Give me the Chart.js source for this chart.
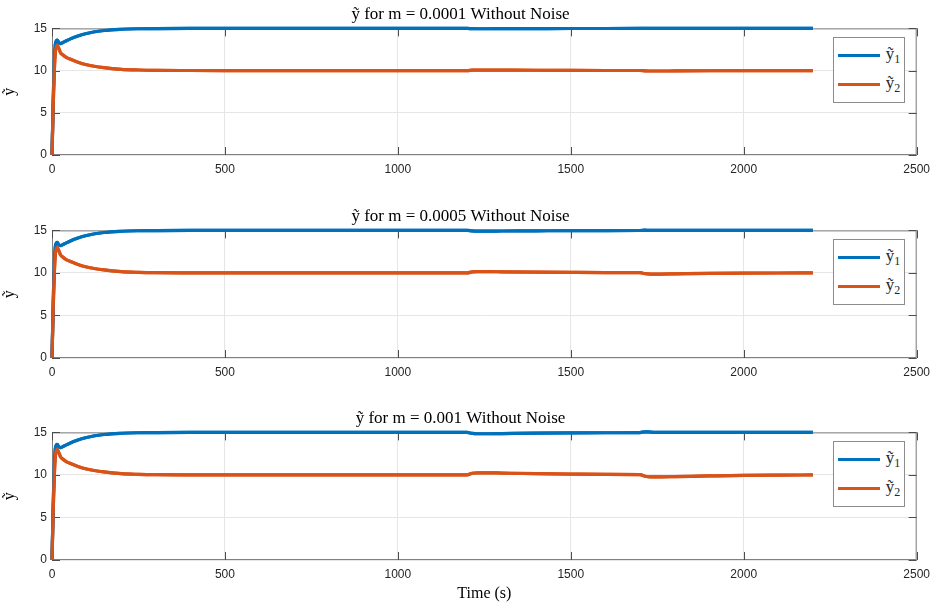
<!DOCTYPE html>
<html>
<head>
<meta charset="utf-8">
<script src="https://cdn.jsdelivr.net/npm/chart.js@4.4.1/dist/chart.umd.min.js"></script>
<style>
  body { margin: 0; background: #fff; }
  #wrap { position: relative; width: 937px; height: 603px; }
  .panel { position: absolute; left: 0; width: 937px; }
  .legend {
    position: absolute; background: #fff; border: 1px solid #8c8c8c;
    font-family: "Liberation Serif", serif; font-size: 17px; color: #262626;
    padding: 3px 4px 3px 4px;
  }
  .legend .row { display: flex; align-items: center; height: 29px; }
  .legend .sw { display: inline-block; width: 42px; height: 3px; margin-right: 6px; }
  .legend sub { font-size: 12px; }
</style>
</head>
<body>
<div id="wrap">
  <div class="panel" style="top:0;height:200px"><canvas id="c1"></canvas></div>
  <div class="panel" style="top:202px;height:201px"><canvas id="c2"></canvas></div>
  <div class="panel" style="top:404px;height:199px"><canvas id="c3"></canvas></div>
</div>
<script>
// time samples (s)
var time = [0, 5, 10, 15, 20, 25, 30, 40, 50, 75, 100, 150, 200, 250, 300, 400, 500, 1000, 1200, 1215, 1230, 1260, 1300, 1400, 1500, 1600, 1700, 1715, 1730, 1760, 1800, 1900, 2000, 2100, 2200];

// m = 0.0001
var y1_a = [0, 9, 13.2, 13.6, 13.3, 13.2, 13.3, 13.5, 13.7, 14.1, 14.4, 14.75, 14.9, 14.96, 14.98, 15, 15, 15, 15, 14.97, 14.96, 14.96, 14.97, 14.98, 14.99, 14.99, 15, 15.02, 15.01, 15, 15, 15, 15, 15, 15];
var y2_a = [0, 8, 12.3, 13.0, 12.6, 12.1, 11.9, 11.6, 11.4, 11.0, 10.7, 10.35, 10.15, 10.07, 10.03, 10.01, 10, 10, 10, 10.05, 10.06, 10.06, 10.05, 10.04, 10.02, 10.01, 10.01, 9.97, 9.95, 9.95, 9.96, 9.98, 9.99, 10, 10];
// m = 0.0005
var y1_b = [0, 9, 13.2, 13.6, 13.3, 13.2, 13.3, 13.5, 13.7, 14.1, 14.4, 14.75, 14.9, 14.96, 14.98, 15, 15, 15, 15, 14.94, 14.92, 14.92, 14.93, 14.95, 14.97, 14.98, 14.99, 15.04, 15.02, 15.01, 15, 15, 15, 15, 15];
var y2_b = [0, 8, 12.3, 13.0, 12.6, 12.1, 11.9, 11.6, 11.4, 11.0, 10.7, 10.35, 10.15, 10.07, 10.03, 10.01, 10, 10, 10, 10.12, 10.15, 10.15, 10.13, 10.09, 10.06, 10.04, 10.03, 9.92, 9.87, 9.87, 9.89, 9.94, 9.97, 9.99, 10];
// m = 0.001
var y1_c = [0, 9, 13.2, 13.6, 13.3, 13.2, 13.3, 13.5, 13.7, 14.1, 14.4, 14.75, 14.9, 14.96, 14.98, 15, 15, 15, 15, 14.88, 14.84, 14.84, 14.86, 14.91, 14.94, 14.96, 14.98, 15.07, 15.04, 15.01, 15, 15, 15, 15, 15];
var y2_c = [0, 8, 12.3, 13.0, 12.6, 12.1, 11.9, 11.6, 11.4, 11.0, 10.7, 10.35, 10.15, 10.07, 10.03, 10.01, 10, 10, 10, 10.2, 10.25, 10.25, 10.22, 10.15, 10.1, 10.06, 10.04, 9.85, 9.77, 9.77, 9.8, 9.88, 9.95, 9.98, 10];

var titles = ["ỹ for m = 0.0001 Without Noise", "ỹ for m = 0.0005 Without Noise", "ỹ for m = 0.001 Without Noise"];
var seriesNames = ["ỹ₁", "ỹ₂"];
var xTicks = [0, 500, 1000, 1500, 2000, 2500];
var yTicks = [0, 5, 10, 15];

var blue = "#0072BD", orange = "#D95319";
var tickFont = { family: "Liberation Sans, Arial, sans-serif", size: 12 };

function pts(y) {
  return time.map(function (t, i) { return { x: t, y: y[i] }; });
}

// box + inward ticks, MATLAB style
var boxPlugin = {
  id: "box",
  afterDraw: function (chart) {
    var a = chart.chartArea, ctx = chart.ctx;
    var xs = chart.scales.x, ys = chart.scales.y;
    ctx.save();
    ctx.strokeStyle = "#808080";
    ctx.lineWidth = 1;
    ctx.strokeRect(a.left + 0.5, a.top + 0.5, a.right - a.left - 1, a.bottom - a.top - 1);
    ctx.strokeStyle = "#4d4d4d";
    ctx.beginPath();
    xTicks.forEach(function (v) {
      var px = Math.round(xs.getPixelForValue(v)) + 0.5;
      ctx.moveTo(px, a.bottom); ctx.lineTo(px, a.bottom - 8);
      ctx.moveTo(px, a.top); ctx.lineTo(px, a.top + 8);
    });
    yTicks.forEach(function (v) {
      var py = Math.round(ys.getPixelForValue(v)) + 0.5;
      ctx.moveTo(a.left, py); ctx.lineTo(a.left + 8, py);
      ctx.moveTo(a.right, py); ctx.lineTo(a.right - 8, py);
    });
    ctx.stroke();
    ctx.restore();
  }
};

// lines are drawn over the box, like MATLAB
var linesOnTop = {
  id: "linesOnTop",
  afterDraw: function (chart) {
    chart.getSortedVisibleDatasetMetas().forEach(function (m) { m.controller.draw(); });
  }
};

function makeChart(id, title, y1, y2, last) {
  var canvas = document.getElementById(id);
  var chart = new Chart(canvas, {
    type: "line",
    data: {
      datasets: [
        { label: seriesNames[0], data: pts(y1), borderColor: blue, backgroundColor: blue, borderWidth: 3.2, pointRadius: 0, cubicInterpolationMode: "monotone", clip: 4 },
        { label: seriesNames[1], data: pts(y2), borderColor: orange, backgroundColor: orange, borderWidth: 3.2, pointRadius: 0, cubicInterpolationMode: "monotone", clip: 4 }
      ]
    },
    options: {
      responsive: true,
      maintainAspectRatio: false,
      animation: false,
      layout: { padding: { left: 0, right: 16, top: 0, bottom: 0 } },
      plugins: {
        legend: { display: false },
        tooltip: { enabled: false },
        title: {
          display: true, text: title, color: "#000",
          font: { family: "Liberation Serif, Times New Roman, serif", size: 17, weight: "normal" },
          padding: { top: 4, bottom: 4 }
        }
      },
      scales: {
        x: {
          type: "linear", min: 0, max: 2500,
          border: { display: false },
          grid: { color: "#e6e6e6", drawTicks: false },
          ticks: { stepSize: 500, padding: 7, color: "#262626", font: tickFont, maxRotation: 0,
                   callback: function (v) { return String(v); } },
          title: { display: last, text: "Time (s)", color: "#000", padding: { top: 2, bottom: 0 },
                   font: { family: "Liberation Serif, Times New Roman, serif", size: 16 } },
          afterFit: function (s) { s.height = last ? 43 : 45; }
        },
        y: {
          min: 0, max: 15,
          border: { display: false },
          grid: { color: "#e6e6e6", drawTicks: false },
          ticks: { stepSize: 5, padding: 5, color: "#262626", font: tickFont },
          title: { display: true, text: "ỹ", color: "#000", padding: 0,
                   font: { family: "Liberation Serif, Times New Roman, serif", size: 16 } },
          afterFit: function (s) { s.width = 52; }
        }
      }
    },
    plugins: [boxPlugin, linesOnTop]
  });

  // legend box inside the plot area, top right
  var lg = document.createElement("div");
  lg.className = "legend";
  chart.data.datasets.forEach(function (ds, i) {
    var row = document.createElement("div");
    row.className = "row";
    var sw = document.createElement("span");
    sw.className = "sw";
    sw.style.background = ds.borderColor;
    var tx = document.createElement("span");
    tx.innerHTML = ds.label.charAt(0) + "<sub>" + (i + 1) + "</sub>";
    row.appendChild(sw); row.appendChild(tx);
    lg.appendChild(row);
  });
  canvas.parentNode.appendChild(lg);
  var a = chart.chartArea;
  lg.style.left = (a.right - 84) + "px";
  lg.style.top = (a.top + 9) + "px";
  return chart;
}

makeChart("c1", titles[0], y1_a, y2_a, false);
makeChart("c2", titles[1], y1_b, y2_b, false);
makeChart("c3", titles[2], y1_c, y2_c, true);
</script>
</body>
</html>
